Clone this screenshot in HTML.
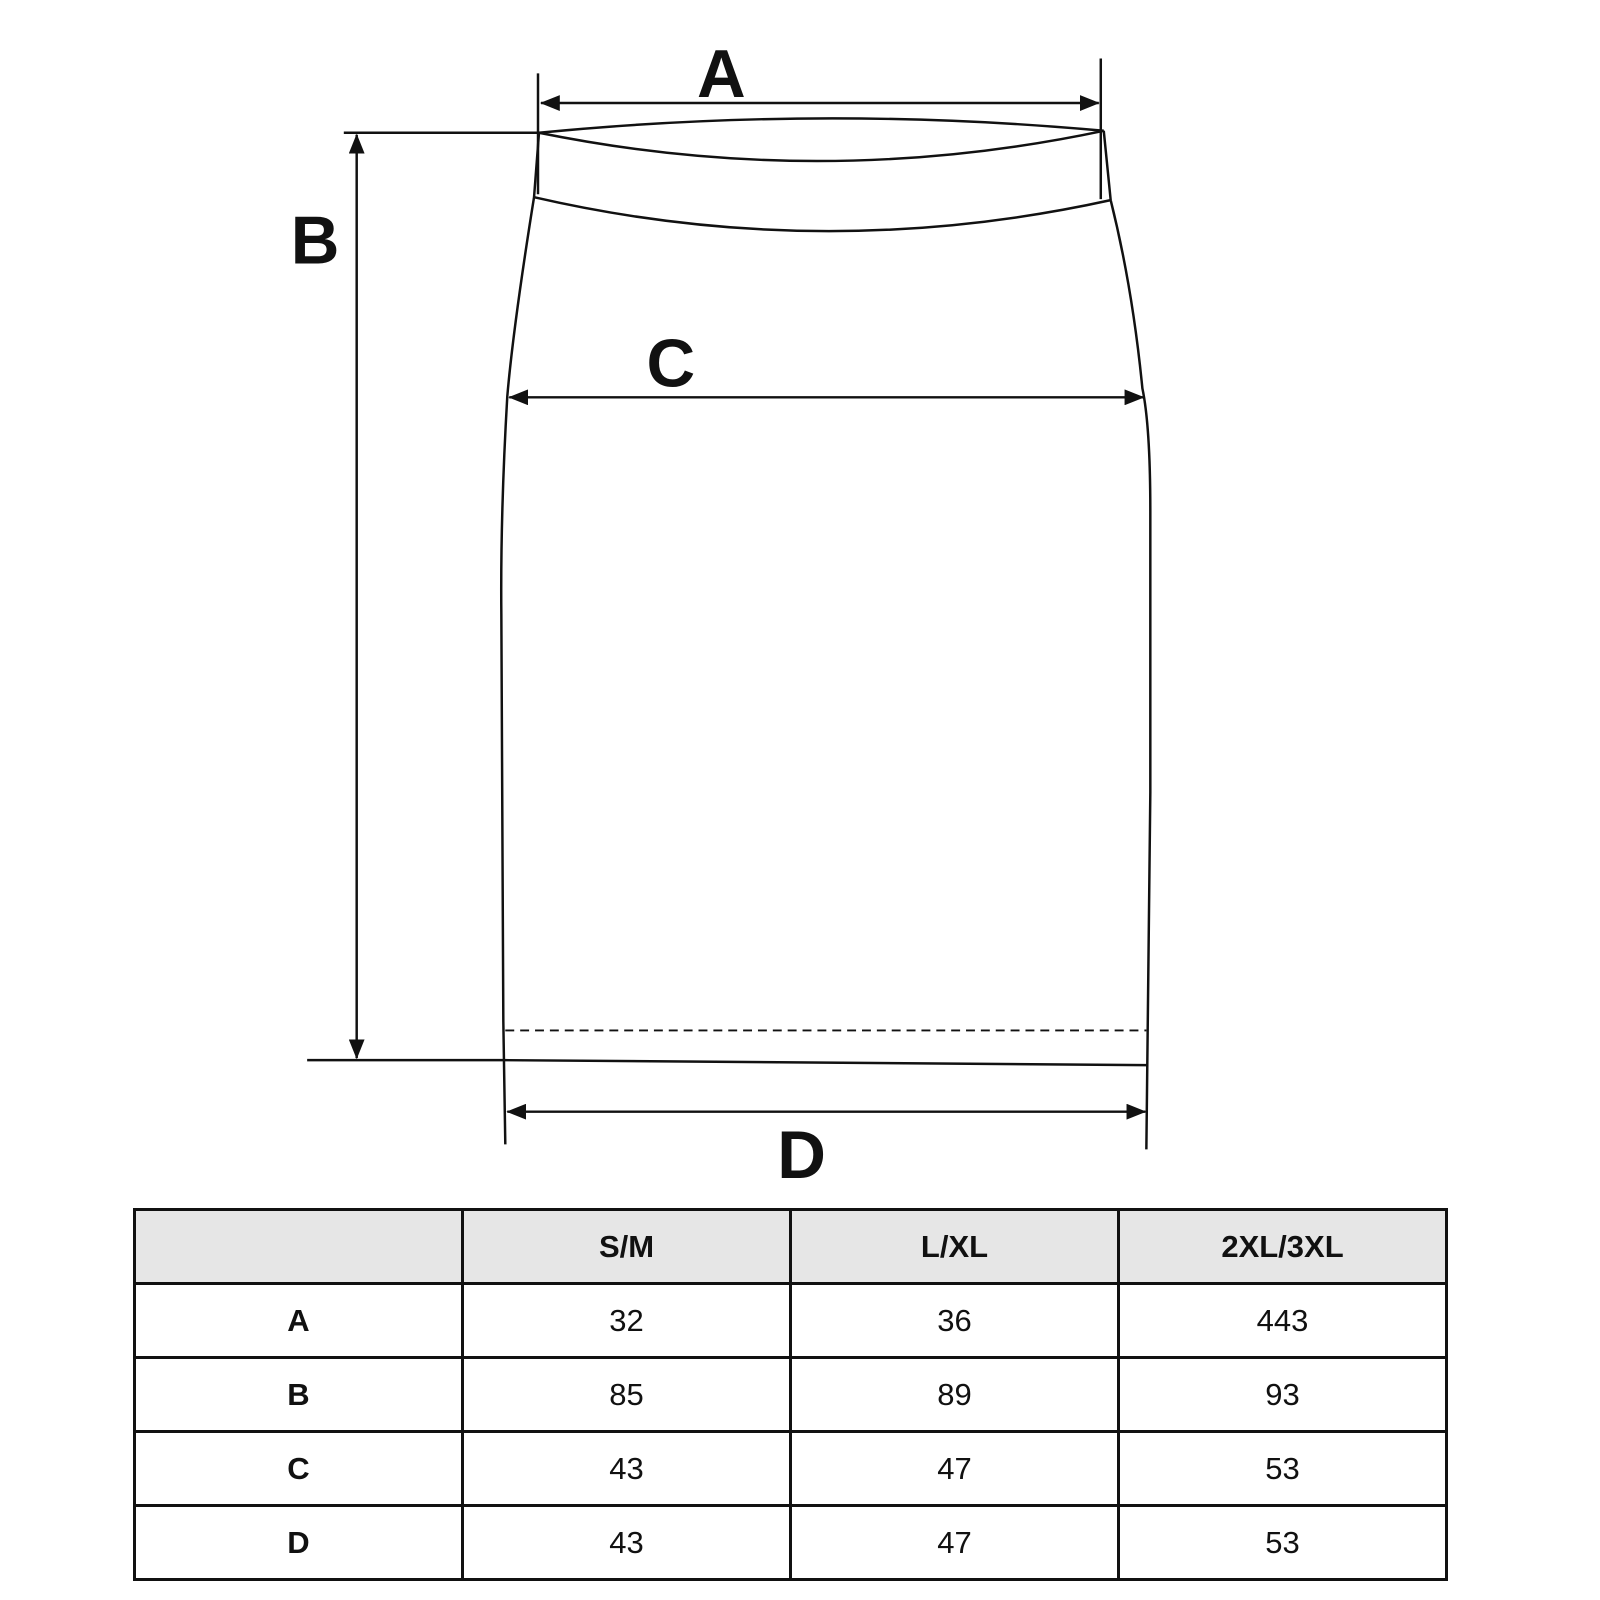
<!DOCTYPE html>
<html><head><meta charset="utf-8"><style>
html,body{margin:0;padding:0;background:#fff;width:1600px;height:1600px;overflow:hidden}
svg{position:absolute;left:0;top:0}
table{position:absolute;left:133px;top:1208px;width:1315px;height:373px;border-collapse:collapse;font-family:"Liberation Sans",Arial,sans-serif;font-size:31px;color:#111}
td{border:3px solid #111;text-align:center;width:25%;padding:0}
tr.h td{background:#e6e6e6;font-weight:bold}
td.k{font-weight:bold}
</style></head><body>
<svg width="1600" height="1600" viewBox="0 0 1600 1600" fill="none" stroke="#111" stroke-width="2.5">
<defs><marker id="ar" viewBox="0 0 20 16" refX="19" refY="8" markerWidth="20" markerHeight="16" orient="auto-start-reverse" markerUnits="userSpaceOnUse"><path d="M0,0 L20,8 L0,16 z" fill="#111" stroke="none"/></marker></defs>
<g transform="scale(0.9908)">
<line x1="543" y1="74" x2="543" y2="196"/>
<line x1="1111" y1="59" x2="1111" y2="201"/>
<line x1="546" y1="104" x2="1109" y2="104" marker-start="url(#ar)" marker-end="url(#ar)"/>
<line x1="347" y1="134" x2="544" y2="134"/>
<path d="M544,134 Q830,106 1114,132"/>
<path d="M544,134 Q830,192 1114,132"/>
<path d="M539,199 Q830,266 1121,202"/>
<path d="M544,134 L539,199 Q518,330 512,400 Q505,520 506,620 L508,1031 L510,1155"/>
<path d="M1114,132 L1121,202 Q1143,290 1153,392 Q1161,430 1161,516 L1161,800 L1157,1160"/>
<line x1="514" y1="401" x2="1154" y2="401" marker-start="url(#ar)" marker-end="url(#ar)"/>
<line x1="360" y1="136" x2="360" y2="1068" marker-start="url(#ar)" marker-end="url(#ar)"/>
<path d="M310,1070 L509,1070 L1158,1075"/>
<line x1="510" y1="1040" x2="1157" y2="1040" stroke-dasharray="9,6" stroke-width="2"/>
<line x1="512" y1="1122" x2="1156" y2="1122" marker-start="url(#ar)" marker-end="url(#ar)"/>
<g font-family="Liberation Sans,Arial,sans-serif" font-weight="bold" font-size="68" fill="#111" stroke="none" text-anchor="middle">
<text x="728" y="98">A</text>
<text x="318" y="266">B</text>
<text x="677" y="390">C</text>
<text x="809" y="1189">D</text>
</g>
</g>
</svg>
<table>
<tr class="h"><td></td><td>S/M</td><td>L/XL</td><td>2XL/3XL</td></tr>
<tr><td class="k">A</td><td>32</td><td>36</td><td>443</td></tr>
<tr><td class="k">B</td><td>85</td><td>89</td><td>93</td></tr>
<tr><td class="k">C</td><td>43</td><td>47</td><td>53</td></tr>
<tr><td class="k">D</td><td>43</td><td>47</td><td>53</td></tr>
</table>
</body></html>
